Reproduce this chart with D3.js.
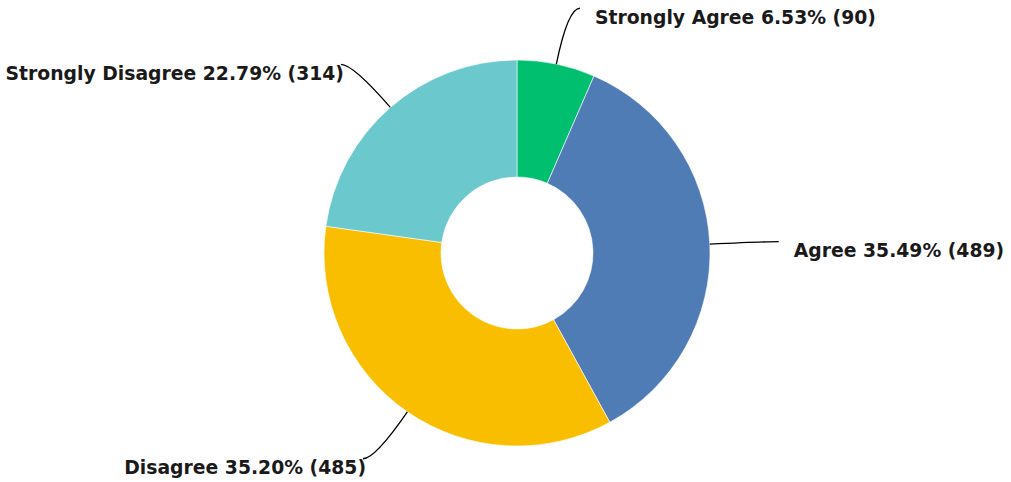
<!DOCTYPE html>
<html>
<head>
<meta charset="utf-8">
<script src="https://cdn.jsdelivr.net/npm/d3@7"></script>
<style>
  body { margin: 0; background: #fff; }
  text { font-family: "DejaVu Sans", sans-serif; font-weight: 700; fill: #1a1a1a; }
</style>
</head>
<body>
<div id="graphic"></div>
<script>
// Data
var categories = ["Strongly Agree", "Agree", "Disagree", "Strongly Disagree"];
var counts = [90, 489, 485, 314];
var percents = ["6.53%", "35.49%", "35.20%", "22.79%"];
var colours = ["#00BF6F", "#507CB6", "#F9BE00", "#6BC8CD"];

var width = 1011, height = 482;
var cx = 517, cy = 253;
var outer = 193, inner = 76;
var elbow = 250;

var svg = d3.select("#graphic")
  .append("svg")
  .attr("width", width)
  .attr("height", height)
  .append("g")
  .attr("transform", "translate(" + cx + "," + cy + ")");

var pie = d3.pie().sort(null).value(function (d) { return d; });
var arcs = pie(counts);

var arc = d3.arc().innerRadius(inner).outerRadius(outer);

// Draw slices
svg.selectAll(".slice")
  .data(arcs)
  .enter()
  .append("path")
  .attr("class", "slice")
  .attr("d", arc)
  .attr("fill", function (d, i) { return colours[i]; })
  .attr("stroke", "#fff")
  .attr("stroke-width", 0.6);

// Leader lines + labels
function pt(a, r) {
  return [r * Math.sin(a), -r * Math.cos(a)];
}

arcs.forEach(function (d, i) {
  var mid = (d.startAngle + d.endAngle) / 2;
  var right = Math.sin(mid) >= 0;
  var p0 = pt(mid, outer);
  var p1 = pt(mid, elbow);
  var p2 = [p1[0] + (right ? 12 : -12), p1[1]];

  svg.append("path")
    .attr("d", "M" + p0 + "Q" + p1 + " " + p2)
    .attr("fill", "none")
    .attr("stroke", "#000")
    .attr("stroke-width", 1.3);

  svg.append("text")
    .attr("x", right ? p2[0] + 15 : p2[0] + 3)
    .attr("y", p2[1] + 9)
    .attr("dominant-baseline", "central")
    .attr("text-anchor", right ? "start" : "end")
    .style("font-size", "18.8px")
    .text(categories[i] + " " + percents[i] + " (" + counts[i] + ")");
});
</script>
</body>
</html>
